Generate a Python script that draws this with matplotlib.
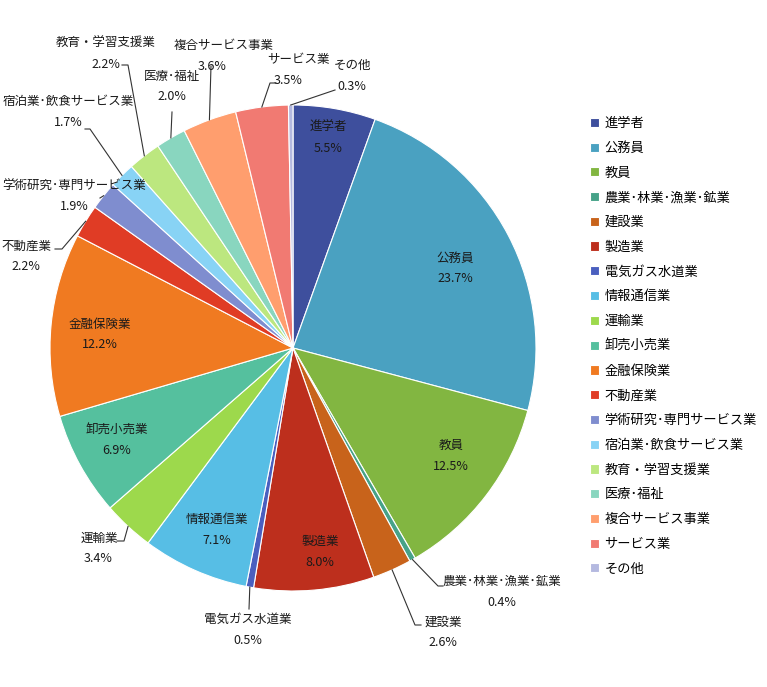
import numpy as np
import matplotlib.pyplot as plt

plt.rcParams['font.family'] = ['Noto Sans CJK JP', 'DejaVu Sans']

# data
categories = ['進学者', '公務員', '教員', '農業･林業･漁業･鉱業', '建設業', '製造業',
              '電気ガス水道業', '情報通信業', '運輸業', '卸売小売業', '金融保険業',
              '不動産業', '学術研究･専門サービス業', '宿泊業･飲食サービス業',
              '教育・学習支援業', '医療･福祉', '複合サービス事業', 'サービス業', 'その他']
shares = [5.5, 23.7, 12.5, 0.4, 2.6, 8.0, 0.5, 7.1, 3.4, 6.9, 12.2,
          2.2, 1.9, 1.7, 2.2, 2.0, 3.6, 3.5, 0.3]
colors = ['#3E4F9D', '#4AA1C1', '#82B641', '#46A288', '#C8631B', '#BD2F1D',
          '#4A5FBF', '#57BEE5', '#9DD94C', '#55C09E', '#F07A21', '#E03C25',
          '#7F8DCF', '#88D3F5', '#BCE77F', '#89D6BF', '#FF9E6E', '#F17A72', '#B4B9E0']

# label layout in image pixels: (x, y of name line), inside flag
label_pos = [(328, 127, True), (455, 258, True), (451, 445, True), (502, 581, False),
             (443, 622, False), (320, 541, True), (248, 619, False), (217, 519, True),
             (99, 538, False), (117, 430, True), (100, 324, True), (26, 246, False),
             (74, 186, False), (68, 101, False), (106, 43, False), (172, 76, False),
             (224, 45, False), (298, 60, False), (352, 65, False)]
# leader line paths (image pixels), from label side toward wedge
leaders = {3: [(443, 586), (438, 586)], 4: [(421, 625), (415, 625)],
           6: [(249, 609)], 8: [(117, 541), (124, 541)], 11: [(55, 249), (62, 249)],
           12: [(100, 198)], 13: [(85, 129), (90, 129)], 14: [(122, 65), (128, 65)],
           15: [(172, 112)], 16: [(211, 66)], 17: [(276, 83), (270, 83)],
           18: [(335, 90)]}
pct_dx = {8: -1, 16: -12, 17: -10}

W, H = 767, 687
cx, cy, R = 293, 348, 243

fig = plt.figure(figsize=(W / 100, H / 100), dpi=100)
ax = fig.add_axes([0, 0, 1, 1])

wedges, _ = ax.pie(shares, colors=colors, startangle=90, counterclock=False,
                   center=(cx, H - cy), radius=R, frame=True,
                   wedgeprops=dict(edgecolor='white', linewidth=0.8))
ax.set_xlim(0, W)
ax.set_ylim(0, H)
ax.axis('off')

for i, (lab, val) in enumerate(zip(categories, shares)):
    x, y, inside = label_pos[i]
    ax.text(x, H - y, lab, ha='center', va='center', fontsize=9, color='#1a1a1a')
    ax.text(x + pct_dx.get(i, 0), H - y - 21, f'{val:.1f}%', ha='center', va='center',
            fontsize=9, color='#1a1a1a')
    if i in leaders:
        w = wedges[i]
        mid = np.deg2rad((w.theta1 + w.theta2) / 2)
        ex, ey = cx + R * np.cos(mid), (H - cy) + R * np.sin(mid)
        pts = [(px, H - py) for px, py in leaders[i]] + [(ex, ey)]
        xs, ys = zip(*pts)
        ax.plot(xs, ys, color='#333333', lw=0.8)

ax.legend(wedges, categories, loc='upper left', bbox_to_anchor=(590 / W, 1 - 117 / H),
          bbox_transform=fig.transFigure, frameon=False, fontsize=9.5,
          handlelength=0.7, handleheight=0.7, handletextpad=0.4, labelspacing=0.89,
          borderaxespad=0, borderpad=0)

fig.savefig('out.png', dpi=100)
